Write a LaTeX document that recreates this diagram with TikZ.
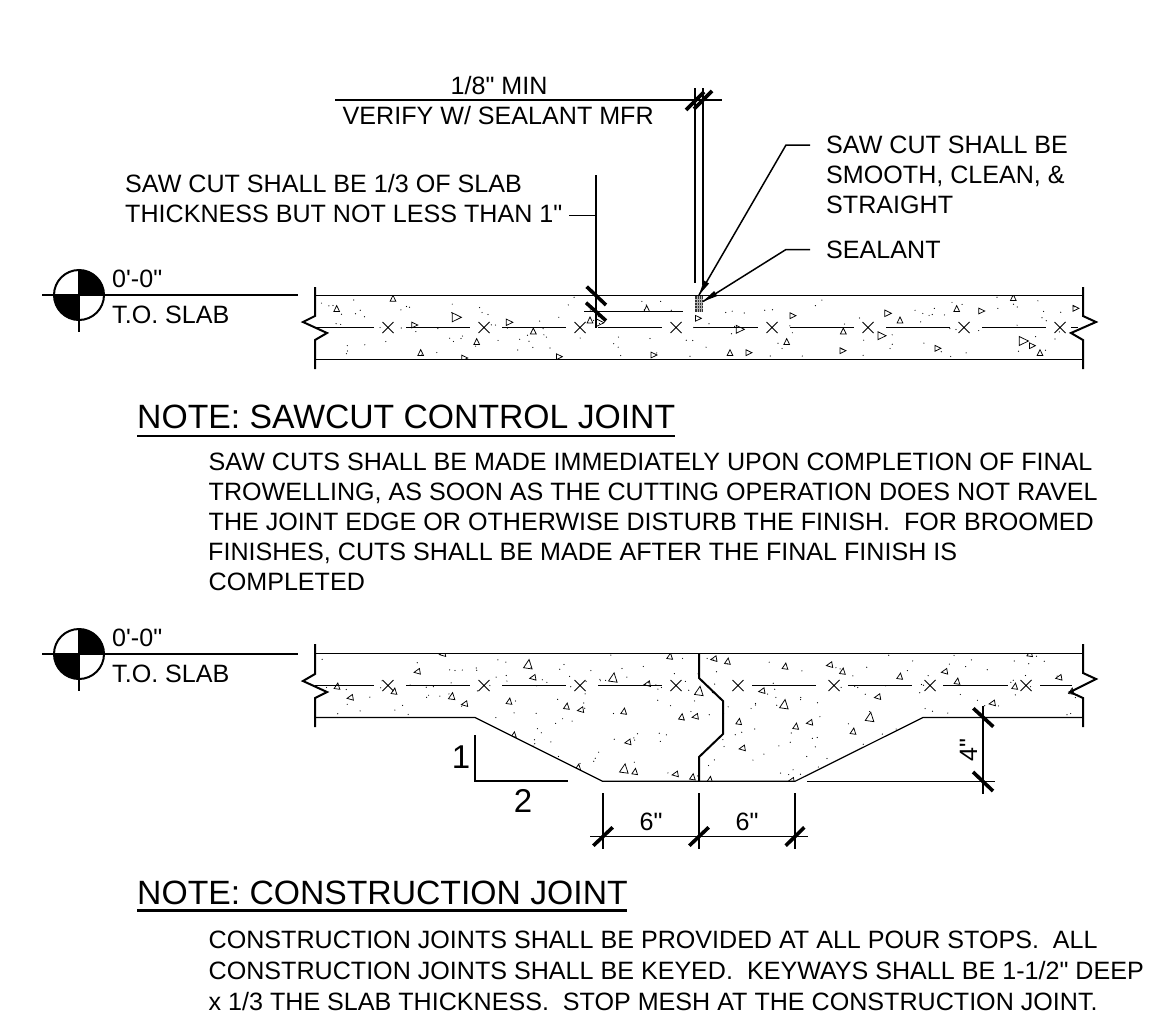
\documentclass[tikz,border=0pt]{standalone}
\usepackage{fontspec}
\setmainfont{Liberation Sans}[Ligatures=TeXOff]
\newcommand{\tr}[4]{\draw[aggr,shift={(#1,#2)},rotate=#3,scale=#4] (-3.6,2.8)--(3.6,2.8)--(0,-4.6)--cycle;}
\newcommand{\xm}[2]{\draw[wire] (#1-5.5,#2-5.5)--(#1+5.5,#2+5.5) (#1-5.5,#2+5.5)--(#1+5.5,#2-5.5);}
\tikzset{
 wire/.style={line width=0.9pt},
 slabline/.style={line width=1.2pt},
 heavy/.style={line width=2pt},
 tick/.style={line width=3.6pt},
 aggr/.style={line width=0.75pt},
 dims/.style={line width=1.5pt},
 lbl/.style={inner sep=0pt,anchor=base west,font=\fontsize{25.1}{30}\selectfont},
 big/.style={inner sep=0pt,anchor=base west,font=\fontsize{33.7}{38}\selectfont},
 mid/.style={inner sep=0pt,anchor=base,font=\fontsize{25.1}{30}\selectfont},
 num/.style={inner sep=0pt,anchor=base,font=\fontsize{33}{38}\selectfont},
 leader/.style={line width=1.5pt},
}
\begin{document}
\begin{tikzpicture}[x=1pt,y=-1pt]
\useasboundingbox (0,0) rectangle (1149,1020);
% ---------- level marks
\foreach \cy in {295,654}{
 \fill (79,\cy) -- (104,\cy) arc[start angle=0,end angle=90,radius=25pt] -- cycle;
 \fill (79,\cy) -- (54,\cy) arc[start angle=180,end angle=270,radius=25pt] -- cycle;
}
\draw[heavy] (79,295) circle[radius=25pt];
\draw[heavy] (79,654) circle[radius=25pt];
\draw[heavy] (42,295)--(298,295) (79,270)--(79,332);
\draw[heavy] (42,654)--(298,654) (79,629)--(79,691);
\node[lbl] (lev1a) at (112,287) {0'-0"};
\node[lbl] (lev1b) at (112,323) {T.O. SLAB};
\node[lbl] (lev2a) at (112,646) {0'-0"};
\node[lbl] (lev2b) at (112,682) {T.O. SLAB};
% ---------- slab 1
\draw[slabline] (315,295.5)--(1083,295.5) (315,359.3)--(1083,359.3);
\draw[heavy] (315,287)--(315,316)--(303,322)--(327,333)--(315,340)--(315,369);
\draw[heavy] (1083,287)--(1083,316)--(1096,322)--(1071,333)--(1083,340)--(1083,369);
\draw[slabline] (315,327.5)--(374,327.5) (406,327.5)--(470,327.5) (502,327.5)--(566,327.5) (598,327.5)--(662,327.5) (694,327.5)--(758,327.5) (790,327.5)--(854,327.5) (886,327.5)--(950,327.5) (982,327.5)--(1046,327.5) (1071,327.5)--(1078,327.5);
\foreach \x in {388,484,580,676,772,868,964,1060}{\xm{\x}{327.5}}
\begin{scope}
\clip (316,295.5) rectangle (1083,359.3);
\tr{336.7}{309.3}{0}{.8}\tr{393}{299}{0}{.8}\tr{414}{325}{-90}{.8}\tr{455.7}{317.3}{-90}{1.25}
\tr{476.7}{342.3}{0}{.8}\tr{420.7}{353.3}{0}{.8}\tr{464}{358}{-90}{.8}\tr{508.7}{322.3}{-90}{.9}
\tr{533.3}{331.7}{0}{.8}\tr{558.7}{356.7}{-90}{.8}\tr{590}{320.7}{0}{.8}\tr{599}{322.7}{-90}{1.1}
\tr{646.7}{309.3}{0}{.8}\tr{697.7}{318.3}{-90}{.8}\tr{739.3}{329.3}{-90}{1.1}\tr{792.3}{315.7}{-90}{.8}
\tr{786.7}{342.3}{0}{.8}\tr{730}{353.3}{0}{.8}\tr{748.3}{352.7}{-90}{.8}\tr{653.3}{355}{-90}{.8}
\tr{887.3}{313.3}{-90}{.9}\tr{900}{320.7}{0}{.8}\tr{843.3}{331.7}{0}{.8}\tr{881}{335.7}{-90}{1.1}
\tr{842.3}{350.7}{-90}{.8}\tr{937.3}{348.3}{-90}{.8}\tr{956.7}{309.3}{0}{.8}\tr{981}{311}{-90}{.8}
\tr{1013.3}{298.3}{0}{.8}\tr{1075.3}{308.3}{-90}{.8}\tr{1022.7}{341}{-90}{1.25}\tr{1031.7}{345.7}{-90}{.8}
\tr{1040}{353.3}{0}{.8}
\pgfmathsetseed{4271}
\foreach \i in {1,...,130}{
 \pgfmathsetmacro{\dx}{318+rnd*762}\pgfmathsetmacro{\dy}{297+rnd*60}
 \fill (\dx,\dy) circle[radius=0.6];
}
\end{scope}
% ---------- slab 2
\draw[slabline] (315,653.5)--(1083,653.5);
\draw[slabline] (315,717.5)--(475,717.5)--(602.7,781.3)--(795,781.3)--(923,717.5)--(1083,717.5);
\draw[heavy] (315,644)--(315,674)--(303,681)--(327,692)--(315,698)--(315,727);
\draw[heavy] (1083,644)--(1083,673)--(1096,679)--(1070,692)--(1083,698)--(1083,727);
\draw[slabline] (315,685.5)--(374,685.5) (406,685.5)--(470,685.5) (502,685.5)--(566,685.5) (598,685.5)--(662,685.5) (752,685.5)--(816,685.5) (848,685.5)--(912,685.5) (943,685.5)--(1008,685.5) (1040,685.5)--(1072,685.5);
\foreach \x in {388,484,580,676,738,834,930,1026}{\xm{\x}{685.5}}
\begin{scope}
\clip (316,653.5)--(1083,653.5)--(1083,717.5)--(923,717.5)--(795,781.3)--(602.7,781.3)--(475,717.5)--(316,717.5)--cycle;
\tr{337.3}{686.7}{-8}{.8}\tr{350.7}{697.7}{100}{.8}\tr{394.3}{691.7}{-8}{.8}\tr{417.7}{671.7}{100}{.8}
\tr{443}{654}{100}{.8}\tr{452}{696.7}{-8}{.9}\tr{465}{704}{100}{.8}\tr{509.3}{701.7}{-8}{.8}
\tr{528.3}{665}{-8}{1.2}\tr{533.3}{677.7}{100}{.8}\tr{566.7}{706.7}{-8}{.8}\tr{581}{710}{100}{.8}
\tr{613.3}{678.3}{-8}{1.2}\tr{647.7}{684}{100}{.8}\tr{670}{656.7}{-8}{.8}\tr{699.3}{691.7}{-8}{1.2}
\tr{624}{711.7}{-8}{.8}\tr{681.7}{717.3}{-8}{.8}\tr{695.7}{716.7}{100}{.8}\tr{628.3}{742.3}{100}{.8}
\tr{624.3}{769.3}{-8}{1.2}\tr{635}{772}{-8}{.8}\tr{675.7}{774.3}{100}{.8}\tr{692.7}{777.3}{-8}{.8}
\tr{514}{735}{-8}{.7}\tr{578.3}{767.3}{-8}{.7}\tr{714.3}{659}{100}{.8}\tr{727.7}{661.7}{-8}{.8}
\tr{785.3}{666.7}{-8}{.8}\tr{830}{665}{100}{.8}\tr{762.3}{691}{100}{.8}\tr{784.3}{705}{-8}{1.2}
\tr{739}{722}{-8}{.8}\tr{796}{726.7}{-8}{.8}\tr{810}{722.7}{100}{.8}\tr{742.7}{748.3}{100}{.8}
\tr{710}{780}{-8}{.8}\tr{791.7}{780.7}{100}{.8}\tr{842.7}{671.7}{-8}{.8}\tr{900}{676.7}{-8}{.8}
\tr{878}{697}{100}{.8}\tr{870}{717.7}{-8}{1.2}\tr{853.3}{731.7}{-8}{.8}\tr{945}{671.7}{100}{.8}
\tr{957.3}{681.7}{-8}{.8}\tr{992.7}{703.3}{100}{.8}\tr{1015}{686.7}{-8}{.8}\tr{1059.3}{677.7}{100}{.8}
\tr{1030}{654}{-8}{.8}\tr{1071.7}{691.7}{-8}{.8}
\pgfmathsetseed{913}
\foreach \i in {1,...,260}{
 \pgfmathsetmacro{\dx}{318+rnd*762}\pgfmathsetmacro{\dy}{655+rnd*125}
 \fill (\dx,\dy) circle[radius=0.6];
}
\end{scope}
\draw[heavy] (699,653.5)--(699,678)--(723,701)--(723,734)--(699,757)--(699,781.3);
% ---------- top dimension
\draw[dims] (335,100)--(721.5,100);
\draw[dims] (695,88)--(695,283) (703,88)--(703,285);
\coordinate (tk1a) at (686,110); \coordinate (tk1b) at (704,92);
\coordinate (tk2a) at (694,109); \coordinate (tk2b) at (712,91);
\draw[tick] (tk1a)--(tk1b) (tk2a)--(tk2b);
\node[lbl] (dimtop) at (450.5,94) {1/8" MIN};
\node[lbl] (dimbot) at (342.5,124.5) {VERIFY W/ SEALANT MFR};
% ---------- saw cut dimension
\node[lbl] (sawnote1) at (125,192) {SAW CUT SHALL BE 1/3 OF SLAB};
\node[lbl] (sawnote2) at (125,222) {THICKNESS BUT NOT LESS THAN 1"};
\draw[dims] (596,175)--(596,328);
\draw[dims] (584,311.5)--(683,311.5);
\draw[dims] (569,215.5)--(596,215.5);
\draw[tick] (586.7,286.7)--(606,305) (586,302.7)--(606,320.7);
% ---------- sealant
\fill[black!80] (695,295.5) rectangle (703,312);
\draw[line width=.3pt,white!70!black] (697,296)--(697,312) (699,296)--(699,312) (701,296)--(701,312);
\draw[line width=.3pt,white!70!black] (695,299)--(703,299) (695,302)--(703,302) (695,305)--(703,305) (695,308)--(703,308);
\coordinate (tipa) at (699,295); \coordinate (tipb) at (703,301.5);
\coordinate (lda) at (786,145); \coordinate (ldb) at (786,249.5);
\draw[leader] (810,145)--(lda)--(tipa);
\draw[leader] (810,249.5)--(ldb)--(tipb);
\fill (tipa)--(709.1,283.5)--(703.9,280.5)--cycle;
\fill (tipb)--(717.3,296)--(714.1,291)--cycle;
\node[lbl] (sc1) at (826,153) {SAW CUT SHALL BE};
\node[lbl] (sc2) at (826,183) {SMOOTH, CLEAN, \&};
\node[lbl] (sc3) at (826,213.5) {STRAIGHT};
\node[lbl] (seal) at (826,258) {SEALANT};
% ---------- note 1
\node[big] (h1) at (137,428) {NOTE: SAWCUT CONTROL JOINT};
\draw[line width=2.2pt] (137,436)--(675,436);
\node[lbl] (n11) at (208.5,470.7) {SAW CUTS SHALL BE MADE IMMEDIATELY UPON COMPLETION OF FINAL};
\node[lbl] (n12) at (208.5,500.7) {TROWELLING, AS SOON AS THE CUTTING OPERATION DOES NOT RAVEL};
\node[lbl] (n13) at (208.5,530.7) {THE JOINT EDGE OR OTHERWISE DISTURB THE FINISH.\ \ FOR BROOMED};
\node[lbl] (n14) at (208,560.7) {FINISHES, CUTS SHALL BE MADE AFTER THE FINAL FINISH IS};
\node[lbl] (n15) at (208.5,590.7) {COMPLETED};
% ---------- slope
\draw[heavy] (475,735)--(475,781.3)--(567.5,781.3);
\node[num] (s1) at (461,768) {1};
\node[num] (s2) at (523,812) {2};
% ---------- 4 inch dim
\draw[dims] (807,781.3)--(995,781.3);
\draw[dims] (983,705.5)--(983,794);
\draw[tick] (973.3,708.3)--(993.3,726.7) (973,772)--(993,791);
\node[mid,rotate=90] (four) at (977,750) {4"};
% ---------- 6 inch dims
\draw[dims] (603,793)--(603,849) (699,793)--(699,849) (795,793)--(795,849);
\draw[dims] (590,836.5)--(808,836.5);
\draw[tick] (593.3,845.7)--(612.7,827.3) (689.3,845.7)--(708.7,827.3) (785.7,845.7)--(804.3,827.3);
\node[mid] (six1) at (651,830) {6"};
\node[mid] (six2) at (747,830) {6"};
% ---------- note 2
\node[big] (h2) at (137,904) {NOTE: CONSTRUCTION JOINT};
\draw[line width=2.2pt] (137,910.5)--(627,910.5);
\node[lbl] (n21) at (208.5,948) {CONSTRUCTION JOINTS SHALL BE PROVIDED AT ALL POUR STOPS.\ \ ALL};
\node[lbl] (n22) at (208.5,979) {CONSTRUCTION JOINTS SHALL BE KEYED.\ \ KEYWAYS SHALL BE 1-1/2" DEEP};
\node[lbl] (n23) at (208.5,1010) {x 1/3 THE SLAB THICKNESS.\ \ STOP MESH AT THE CONSTRUCTION JOINT.};
\end{tikzpicture}
\end{document}
